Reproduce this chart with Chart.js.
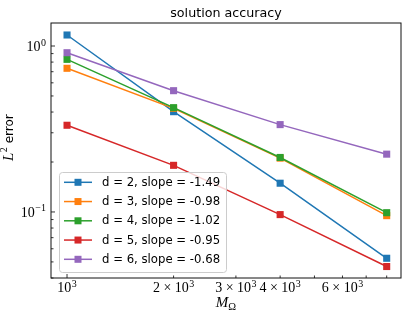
<!DOCTYPE html>
<html>
<head>
<meta charset="utf-8">
<script src="https://cdn.jsdelivr.net/npm/chart.js@4/dist/chart.umd.min.js"></script>
<style>
html,body{margin:0;padding:0;background:#fff;}
#wrap{width:408px;height:317px;position:relative;}
</style>
</head>
<body>
<div id="wrap"><canvas id="c" width="408" height="317"></canvas></div>
<script>
// ---- data ----
const chartTitle = 'solution accuracy';
const xValues = [1000, 2000, 4000, 8000];
const seriesLabels = ['d = 2, slope = -1.49', 'd = 3, slope = -0.98', 'd = 4, slope = -1.02', 'd = 5, slope = -0.95', 'd = 6, slope = -0.68'];
const d2 = [1.165, 0.402, 0.149, 0.0526];
const d3 = [0.734, 0.421, 0.211, 0.095];
const d4 = [0.831, 0.425, 0.213, 0.099];
const d5 = [0.333, 0.191, 0.0964, 0.0469];
const d6 = [0.911, 0.538, 0.336, 0.223];
const seriesValues = [d2, d3, d4, d5, d6];
const seriesColors = ['#1f77b4', '#ff7f0e', '#2ca02c', '#d62728', '#9467bd'];

const xTickValues = [1000, 2000, 3000, 4000, 5000, 6000, 7000, 8000];
const xTickLabels = ['10^3', '2 \u00D7 10^3', '3 \u00D7 10^3', '4 \u00D7 10^3', '', '6 \u00D7 10^3', '', ''];
const xMajorTicks = [1000];
const yTickValues = [0.04, 0.05, 0.06, 0.07, 0.08, 0.09, 0.1, 0.2, 0.3, 0.4, 0.5, 0.6, 0.7, 0.8, 0.9, 1];
const yTickLabels = ['', '', '', '', '', '', '10^\u22121', '', '', '', '', '', '', '', '', '10^0'];
const yMajorTicks = [0.1, 1];

const xMin = 901, xMax = 8780, yMin = 0.04, yMax = 1.376;

const datasets = seriesValues.map((vals, i) => ({
  label: seriesLabels[i],
  data: xValues.map((x, j) => ({x: x, y: vals[j]})),
  borderColor: seriesColors[i],
  backgroundColor: seriesColors[i],
  borderWidth: 1.5,
  pointStyle: 'rect',
  pointRadius: 5,
  pointBorderWidth: 0,
  tension: 0,
  order: seriesValues.length - i
}));

const serif = '"Liberation Serif", "DejaVu Serif", serif';
const sans = '"DejaVu Sans", sans-serif';
const baseFont = '14px ' + serif;
const supFont = '10px ' + serif;

function labelWidth(ctx, txt) {
  const p = txt.split('^');
  ctx.font = baseFont;
  let w = ctx.measureText(p[0]).width;
  if (p.length > 1) { ctx.font = supFont; w += ctx.measureText(p[1]).width + 0.5; }
  return w;
}
function drawLabel(ctx, txt, x, y) {
  const p = txt.split('^');
  ctx.font = baseFont;
  ctx.fillText(p[0], x, y);
  let w = ctx.measureText(p[0]).width;
  if (p.length > 1) { ctx.font = supFont; ctx.fillText(p[1], x + w + 0.5, y - 5.5); }
}

const decor = {
  id: 'decor',
  afterDraw(chart) {
    const ctx = chart.ctx;
    const a = chart.chartArea;
    const xs = chart.scales.x, ys = chart.scales.y;
    ctx.save();
    // inward ticks
    ctx.strokeStyle = '#000';
    ctx.lineWidth = 0.8;
    xTickValues.forEach(v => {
      const px = xs.getPixelForValue(v);
      if (px < a.left || px > a.right) return;
      const len = xMajorTicks.includes(v) ? 4 : 2.5;
      ctx.beginPath();
      ctx.moveTo(px, a.bottom);
      ctx.lineTo(px, a.bottom - len);
      ctx.stroke();
    });
    yTickValues.forEach(v => {
      const py = ys.getPixelForValue(v);
      if (py < a.top || py > a.bottom) return;
      const len = yMajorTicks.includes(v) ? 4 : 2.5;
      ctx.beginPath();
      ctx.moveTo(a.left, py);
      ctx.lineTo(a.left + len, py);
      ctx.stroke();
    });
    // frame
    ctx.lineWidth = 1;
    ctx.strokeStyle = '#111';
    ctx.strokeRect(a.left, a.top, a.right - a.left, a.bottom - a.top);

    // tick labels
    ctx.fillStyle = '#000';
    ctx.textAlign = 'left';
    ctx.textBaseline = 'alphabetic';
    xTickValues.forEach((v, i) => {
      const t = xTickLabels[i];
      if (!t) return;
      const px = xs.getPixelForValue(v);
      const w = labelWidth(ctx, t);
      drawLabel(ctx, t, px - w / 2, a.bottom + 14);
    });
    yTickValues.forEach((v, i) => {
      const t = yTickLabels[i];
      if (!t) return;
      const py = ys.getPixelForValue(v);
      const w = labelWidth(ctx, t);
      drawLabel(ctx, t, a.left - 5 - w, py + 5);
    });

    // title
    ctx.font = '12.7px ' + sans;
    ctx.textAlign = 'center';
    ctx.fillText(chartTitle, (a.left + a.right) / 2, 17);
    ctx.textAlign = 'left';

    // legend
    const lx = a.left + 8, ly = a.bottom - 106, lw = 167, lh = 100;
    ctx.beginPath();
    if (ctx.roundRect) ctx.roundRect(lx + 0.5, ly + 0.5, lw, lh, 3); else ctx.rect(lx + 0.5, ly + 0.5, lw, lh);
    ctx.fillStyle = 'rgba(255,255,255,0.8)';
    ctx.fill();
    ctx.strokeStyle = '#cccccc';
    ctx.lineWidth = 1;
    ctx.stroke();
    ctx.font = '11.7px ' + sans;
    ctx.textBaseline = 'middle';
    chart.data.datasets.forEach((ds, i) => {
      const y = ly + 10.3 + i * 19.25;
      ctx.strokeStyle = ds.borderColor;
      ctx.lineWidth = 1.5;
      ctx.beginPath();
      ctx.moveTo(lx + 5, y);
      ctx.lineTo(lx + 33, y);
      ctx.stroke();
      ctx.fillStyle = ds.backgroundColor;
      ctx.fillRect(lx + 19 - 3.5, y - 3.5, 7, 7);
      ctx.fillStyle = '#000';
      ctx.fillText(ds.label, lx + 43, y + 0.5);
    });

    // x axis title: M_Omega
    ctx.fillStyle = '#000';
    ctx.textBaseline = 'alphabetic';
    const cx = (a.left + a.right) / 2;
    ctx.font = 'italic 15px ' + serif;
    const mW = ctx.measureText('M').width;
    ctx.font = '10.5px ' + serif;
    const oW = ctx.measureText('\u03A9').width;
    const sx = cx - (mW + oW) / 2;
    ctx.font = 'italic 15px ' + serif;
    ctx.fillText('M', sx, 307);
    ctx.font = '10.5px ' + serif;
    ctx.fillText('\u03A9', sx + mW, 310);

    // y axis title: L^2 error
    ctx.save();
    ctx.translate(13, 161);
    ctx.rotate(-Math.PI / 2);
    ctx.font = 'italic 15px ' + serif;
    ctx.fillText('L', 0, 0);
    let w = ctx.measureText('L').width;
    ctx.font = '10px ' + serif;
    ctx.fillText('2', w + 0.5, -6);
    w += ctx.measureText('2').width + 0.5;
    ctx.font = '12px ' + sans;
    ctx.fillText(' error', w, 0);
    ctx.restore();

    ctx.restore();
  }
};

new Chart(document.getElementById('c'), {
  type: 'line',
  data: { datasets: datasets },
  plugins: [decor],
  options: {
    responsive: false,
    animation: false,
    devicePixelRatio: 1,
    layout: { padding: { left: 0, right: 7, top: 23, bottom: 0 } },
    plugins: {
      legend: { display: false },
      tooltip: { enabled: false },
      title: { display: false }
    },
    scales: {
      x: {
        type: 'logarithmic',
        position: 'bottom',
        min: xMin, max: xMax,
        bounds: 'data',
        afterFit(s) { s.height = 39; },
        afterBuildTicks(s) { s.ticks = xTickValues.map(v => ({ value: v, major: xMajorTicks.includes(v) })); },
        grid: { display: false },
        border: { display: false },
        ticks: { display: false, autoSkip: false, maxRotation: 0 }
      },
      y: {
        type: 'logarithmic',
        position: 'left',
        min: yMin, max: yMax,
        bounds: 'data',
        afterFit(s) { s.width = 51; },
        afterBuildTicks(s) { s.ticks = yTickValues.map(v => ({ value: v, major: yMajorTicks.includes(v) })); },
        grid: { display: false },
        border: { display: false },
        ticks: { display: false, autoSkip: false }
      }
    }
  }
});
</script>
</body>
</html>
